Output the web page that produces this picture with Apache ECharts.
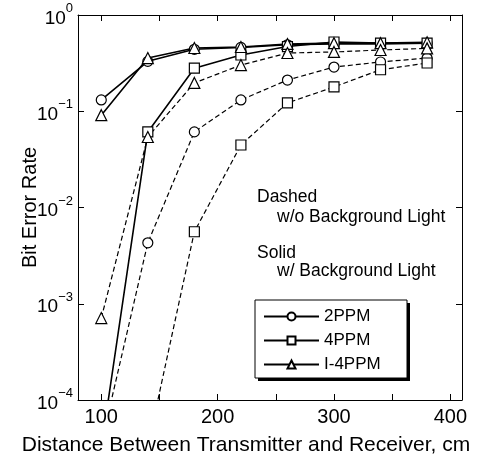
<!DOCTYPE html>
<html>
<head>
<meta charset="utf-8">
<script src="https://cdn.jsdelivr.net/npm/echarts@6/dist/echarts.min.js"></script>
<style>
html, body { margin: 0; padding: 0; background: #fff; }
#chart { width: 497px; height: 459px; }
</style>
</head>
<body>
<div id="chart"></div>
<script>
// distances, cm
var distances = [100, 140, 180, 220, 260, 300, 340, 380];

// solid: with background light
var bg2ppm  = [0.131, 0.33, 0.44, 0.46, 0.49, 0.50, 0.50, 0.51];
var bg4ppm  = [3.2e-5, 0.061, 0.28, 0.384, 0.47, 0.524, 0.51, 0.51];
var bgI4ppm = [0.091, 0.357, 0.454, 0.465, 0.50, 0.51, 0.51, 0.52];

// dashed: without background light
var noBg2ppm  = [3.5e-5, 0.0043, 0.061, 0.131, 0.211, 0.288, 0.325, 0.357];
var noBg4ppm  = ['-', 3.3e-5, 0.0056, 0.0446, 0.122, 0.179, 0.27, 0.317];
var noBgI4ppm = [7.1e-4, 0.054, 0.197, 0.302, 0.403, 0.413, 0.433, 0.45];

var xTicks = [100, 200, 300, 400];

var FONT = 'Liberation Sans, Arial, sans-serif';

function pairs(ys) {
    return distances.map(function (x, i) { return [x, ys[i]]; });
}

function makeSeries(name, ys, symbol, dashed) {
    return {
        name: name,
        type: 'line',
        data: pairs(ys),
        symbol: symbol,
        symbolSize: symbol === 'triangle' ? 11 : 10,
        clip: true,
        lineStyle: { color: '#000', width: dashed ? 1.2 : 1.6, type: dashed ? [5, 3] : 'solid' },
        itemStyle: { color: '#fff', borderColor: '#000', borderWidth: 1.2 },
        emphasis: { disabled: true },
        animation: false
    };
}

function logAxis(pos) {
    return {
        type: 'log',
        logBase: 10,
        min: 1e-4,
        max: 1,
        position: pos,
        axisLine: { show: true, lineStyle: { color: '#000', width: 1 } },
        axisTick: { show: true, inside: true, length: 6, lineStyle: { color: '#000', width: 1 } },
        axisLabel: { show: false },
        splitLine: { show: false }
    };
}

function xAxisBase(pos) {
    return {
        type: 'value',
        position: pos,
        min: 80,
        max: 410,
        axisLine: { show: true, lineStyle: { color: '#000', width: 1 } },
        axisTick: { show: true, inside: true, length: 6, lineStyle: { color: '#000' } },
        axisLabel: { show: false },
        splitLine: { show: false }
    };
}

var myChart = echarts.init(document.getElementById('chart'));

var leftAxis = logAxis('left');
leftAxis.name = 'Bit Error Rate';
leftAxis.nameLocation = 'middle';
leftAxis.nameGap = 38;
leftAxis.nameMoveOverlap = false;
leftAxis.nameTextStyle = { fontFamily: FONT, fontSize: 20, color: '#000' };
leftAxis.axisLabel = {
    margin: 5,
    formatter: function (v) {
        var e = Math.round(Math.log10(v));
        return '{b|10}{e|' + (e < 0 ? '\u2212' + (-e) : e) + '}';
    },
    rich: {
        b: { fontFamily: FONT, fontSize: 19, color: '#000', padding: [7, 0, 0, 0], verticalAlign: 'bottom' },
        e: { fontFamily: FONT, fontSize: 13, color: '#000', verticalAlign: 'top' }
    }
};

var bottomAxis = xAxisBase('bottom');
bottomAxis.axisLabel = { show: true, customValues: xTicks, fontFamily: FONT, fontSize: 20, color: '#000', margin: 7 };

var option = {
    animation: false,
    backgroundColor: '#fff',
    grid: { left: 78, top: 15, right: 35, bottom: 59 },
    legend: {
        data: ['2PPM', '4PPM', 'I-4PPM'],
        orient: 'vertical',
        left: 255,
        top: 300,
        padding: [8, 8, 7, 8],
        itemWidth: 55,
        itemHeight: 10,
        itemGap: 7,
        textStyle: { fontFamily: FONT, fontSize: 17, color: '#000' },
        selectedMode: false,
        z: 10
    },
    xAxis: [bottomAxis, xAxisBase('top')],
    yAxis: [leftAxis, logAxis('right')],
    graphic: [
        // legend box with its shadow
        { type: 'rect', z: 5, shape: { x: 258, y: 303, width: 152, height: 78 }, style: { fill: '#000' } },
        { type: 'rect', z: 6, shape: { x: 255, y: 300, width: 152, height: 78 }, style: { fill: '#fff', stroke: '#000', lineWidth: 1 } },
        { type: 'text', left: 257, top: 188, style: { text: 'Dashed', font: '17.5px ' + FONT, fill: '#000' } },
        { type: 'text', left: 277, top: 208, style: { text: 'w/o Background Light', font: '17.5px ' + FONT, fill: '#000' } },
        { type: 'text', left: 257, top: 244, style: { text: 'Solid', font: '17.5px ' + FONT, fill: '#000' } },
        { type: 'text', left: 277, top: 262, style: { text: 'w/ Background Light', font: '17.5px ' + FONT, fill: '#000' } },
        { type: 'text', x: 246, y: 445, style: { text: 'Distance Between Transmitter and Receiver, cm', font: '21px ' + FONT, fill: '#000', align: 'center', verticalAlign: 'middle' } }
    ],
    series: [
        makeSeries('2PPM', bg2ppm, 'circle', false),
        makeSeries('4PPM', bg4ppm, 'rect', false),
        makeSeries('I-4PPM', bgI4ppm, 'triangle', false),
        makeSeries('2PPM', noBg2ppm, 'circle', true),
        makeSeries('4PPM', noBg4ppm, 'rect', true),
        makeSeries('I-4PPM', noBgI4ppm, 'triangle', true)
    ]
};

myChart.setOption(option);
</script>
</body>
</html>
